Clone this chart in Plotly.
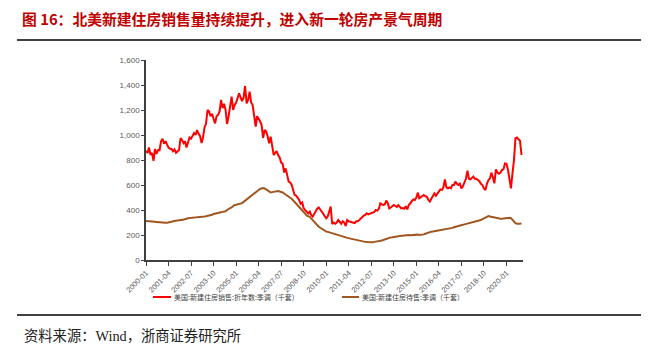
import pandas as pd
import plotly.graph_objects as go

start_month = "2000-01-01"

sales = [
    873, 856, 900, 841, 857, 793, 887, 848, 880, 878, 950, 970,
    930, 950, 925, 900, 890, 888, 870, 885, 858, 870, 880, 975,
    960, 935, 950, 900, 945, 980, 970, 990, 1015, 1000, 1040, 1010,
    990, 936, 980, 1060, 1090, 1200, 1190, 1150, 1170, 1130, 1093, 1150,
    1160, 1190, 1280, 1215, 1250, 1200, 1088, 1150, 1230, 1307, 1200, 1240,
    1260, 1290, 1333, 1300, 1272, 1300, 1392, 1253, 1280, 1347, 1260, 1240,
    1170, 1067, 1150, 1133, 1110, 1080, 976, 1040, 1027, 990, 933, 987,
    900, 840, 855, 872, 840, 820, 781, 770, 700, 733, 680, 627,
    620, 600, 560, 520, 515, 500, 480, 450, 460, 413, 400, 380,
    373, 387, 360, 347, 370, 390, 410, 421, 405, 395, 370, 350,
    333, 350, 380, 427, 288, 300, 290, 300, 320, 300, 290, 310,
    300, 272, 320, 310, 307, 305, 300, 295, 310, 310, 320, 333,
    340, 355, 360, 373, 365, 370, 381, 380, 385, 400, 395, 410,
    453, 445, 440, 445, 475, 455, 413, 420, 430, 440, 432, 425,
    440, 420, 413, 415, 410, 430, 405, 440, 460, 470, 485, 480,
    500, 539, 493, 500, 510, 520, 510, 505, 480, 467, 490, 510,
    533, 515, 530, 545, 565, 560, 580, 645, 581, 573, 580, 573,
    600, 600, 627, 610, 600, 610, 573, 590, 620, 650, 715, 650,
    645, 660, 667, 650, 650, 640, 630, 610, 600, 573, 560, 610,
    640, 653, 699, 660, 613, 725, 700, 690, 700, 720, 725, 773,
    770, 720, 630, 573, 690, 800, 975, 980, 965, 955, 840,
]

inventory = [
    312, 310, 308, 310, 310, 308, 306, 305, 305, 303, 302, 303,
    301, 299, 298, 299, 302, 306, 310, 313, 315, 316, 318, 320,
    320, 322, 325, 330, 334, 336, 339, 340, 342, 342, 343, 344,
    345, 346, 345, 348, 350, 352, 355, 358, 362, 368, 372, 375,
    378, 380, 382, 385, 387, 390, 400, 410, 415, 420, 430, 440,
    442, 445, 448, 450, 455, 465, 475, 485, 495, 505, 515, 522,
    530, 540, 550, 560, 568, 572, 575, 572, 565, 555, 545, 541,
    543, 546, 550, 552, 552, 548, 545, 540, 532, 522, 513, 505,
    498, 490, 478, 465, 452, 440, 425, 413, 400, 385, 370, 355,
    350, 345, 333, 318, 305, 293, 280, 267, 258, 250, 240, 232,
    227, 225, 222, 218, 215, 212, 208, 202, 198, 195, 192, 188,
    185, 181, 177, 174, 170, 167, 164, 161, 158, 155, 152, 150,
    148, 146, 145, 144, 143, 142, 142, 143, 145, 146, 148, 150,
    152, 156, 160, 165, 170, 175, 178, 181, 182, 183, 185, 188,
    190, 193, 195, 197, 198, 200, 201, 200, 199, 200, 202, 204,
    205, 203, 200, 201, 203, 205, 210, 215, 220, 225, 227, 228,
    230, 235, 238, 240, 240, 241, 240, 242, 245, 248, 250, 253,
    257, 262, 266, 270, 272, 275, 278, 282, 285, 288, 292, 295,
    298, 302, 305, 308, 310, 312, 315, 320, 328, 335, 342, 350,
    352, 348, 345, 342, 340, 335, 333, 332, 330, 330, 332, 333,
    333, 335, 338, 335, 320, 305, 295, 290, 288, 290, 293,
]

tick_labels = ["2000-01", "2001-04", "2002-07", "2003-10", "2005-01", "2006-04",
               "2007-07", "2008-10", "2010-01", "2011-04", "2012-07", "2013-10",
               "2015-01", "2016-04", "2017-07", "2018-10", "2020-01"]

sales_name = "美国:新建住房销售:折年数:季调（千套）"
inv_name = "美国:新建住房待售:季调（千套）"
title_text = "图 16：北美新建住房销售量持续提升，进入新一轮房产景气周期"
source_text = "资料来源：Wind，浙商证券研究所"

sales_color = "#FF0000"
inv_color = "#A0561E"

dates = pd.date_range(start_month, periods=len(sales), freq="MS")
tick_vals = pd.to_datetime([t + "-01" for t in tick_labels])

fig = go.Figure()
fig.add_trace(go.Scatter(x=dates, y=sales, mode="lines", name=sales_name,
                         line=dict(color=sales_color, width=2)))
fig.add_trace(go.Scatter(x=dates, y=inventory, mode="lines", name=inv_name,
                         line=dict(color=inv_color, width=2)))

W, H = 664, 357
L, R, T, B = 146, 523, 60, 260
pw, ph = R - L, B - T

def px_x(x):
    return (x - L) / pw

def px_y(y):
    return (B - y) / ph

legend_font = dict(family="Noto Sans CJK SC", size=7, color="#404040")
leg_y = 297

fig.update_layout(
    width=W, height=H,
    margin=dict(l=L, r=W - R, t=T, b=H - B, autoexpand=False),
    paper_bgcolor="white", plot_bgcolor="white",
    font=dict(family="Liberation Sans, Arial, Noto Sans CJK SC", color="#595959"),
    title=dict(text="<b>" + title_text + "</b>", xref="container", yref="container",
               x=22 / W, xanchor="left", y=1 - 20 / H, yanchor="middle",
               font=dict(family="Noto Sans CJK SC", size=14.8, color="#C00000")),
    showlegend=False,
    xaxis=dict(type="date", range=[dates[0], pd.Timestamp("2020-12-01")],
               tickvals=tick_vals, ticktext=tick_labels, tickangle=-45,
               automargin=False,
               showgrid=False, zeroline=False, showline=True, linecolor="#404040",
               linewidth=1.5, ticks="outside", ticklen=4, tickcolor="#404040",
               tickfont=dict(size=7.5, color="#595959")),
    yaxis=dict(range=[0, 1600], dtick=200, tickformat=",", showgrid=False,
               automargin=False,
               zeroline=False, showline=True, linecolor="#404040", linewidth=1.5,
               ticks="outside", ticklen=3, tickcolor="#404040",
               tickfont=dict(size=8, color="#595959")),
    shapes=[
        dict(type="line", xref="paper", yref="paper", x0=px_x(17), x1=px_x(641),
             y0=px_y(40), y1=px_y(40), line=dict(color="black", width=1.5)),
        dict(type="line", xref="paper", yref="paper", x0=px_x(17), x1=px_x(641),
             y0=px_y(315), y1=px_y(315), line=dict(color="black", width=1.5)),
        dict(type="line", xref="paper", yref="paper", x0=px_x(153), x1=px_x(171),
             y0=px_y(leg_y), y1=px_y(leg_y), line=dict(color=sales_color, width=2)),
        dict(type="line", xref="paper", yref="paper", x0=px_x(342), x1=px_x(359),
             y0=px_y(leg_y), y1=px_y(leg_y), line=dict(color=inv_color, width=2)),
    ],
    annotations=[
        dict(text=source_text, xref="paper", yref="paper", x=px_x(22), y=px_y(336),
             xanchor="left", yanchor="middle", showarrow=False,
             font=dict(family="Liberation Serif, Noto Sans CJK SC", size=14.3, color="#222222")),
        dict(text=sales_name, xref="paper", yref="paper", x=px_x(172), y=px_y(leg_y),
             xanchor="left", yanchor="middle", showarrow=False, font=legend_font),
        dict(text=inv_name, xref="paper", yref="paper", x=px_x(360), y=px_y(leg_y),
             xanchor="left", yanchor="middle", showarrow=False, font=legend_font),
    ],
)

fig.write_html("out.html", config={"displayModeBar": False},
               post_script="document.body.style.margin='0';")
